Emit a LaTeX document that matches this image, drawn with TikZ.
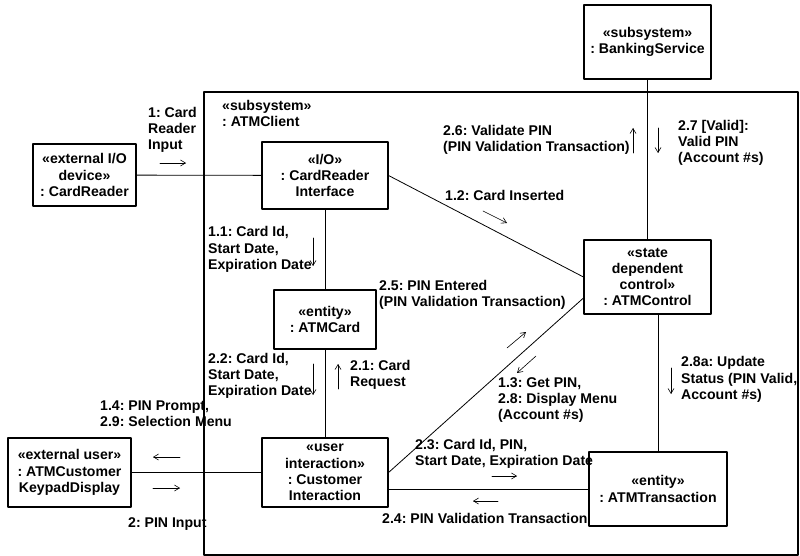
\documentclass[tikz,border=0pt]{standalone}
\usepackage{fontspec}
\setmainfont{Liberation Sans}
\usetikzlibrary{arrows.meta}
\frenchspacing
\begin{document}
\begin{tikzpicture}[x=1pt, y=-1pt, font=\fontsize{14.1}{16.2}\selectfont\bfseries, line join=round, line cap=round,
  >={Straight Barb[length=5pt,width=6pt]},
  obj/.style={draw, line width=1.1pt, align=center, inner sep=1pt},
  link/.style={line width=0.8pt},
  msg/.style={->, line width=0.6pt},
  lbl/.style={align=left, anchor=west, inner sep=0pt}]
\useasboundingbox (0,0) rectangle (800,556);
% subsystem frame
\draw[line width=1.1pt] (204,92) rectangle (798,555);
\node[lbl] (client) at (222,113.5) {«subsystem»\\: ATMClient};
% objects
\node[obj, minimum width=103pt, minimum height=62pt] (reader) at (84.5,175) {«external I/O\\device»\\: CardReader};
\node[obj, minimum width=126pt, minimum height=67pt] (readerif) at (325,175.5) {«I/O»\\: CardReader\\Interface};
\node[obj, minimum width=102pt, minimum height=59pt] (card) at (325,319.5) {«entity»\\: ATMCard};
\node[obj, minimum width=127pt, minimum height=74pt] (bank) at (647.5,42) {«subsystem»\\: BankingService};
\node[obj, minimum width=127pt, minimum height=74pt] (control) at (647.5,277) {«state\\dependent\\control»\\: ATMControl};
\node[obj, minimum width=123pt, minimum height=69pt] (keypad) at (69.5,472.5) {«external user»\\: ATMCustomer\\KeypadDisplay};
\node[obj, minimum width=126pt, minimum height=69pt] (custif) at (325,472.5) {«user\\interaction»\\: Customer\\Interaction};
\node[obj, minimum width=138pt, minimum height=74pt] (trans) at (658,489) {«entity»\\: ATMTransaction};
% links
\draw[link] (reader) -- (readerif);
\draw[link] (readerif) -- (card);
\draw[link] (card) -- (custif);
\draw[link] (bank) -- (control);
\draw[link] (keypad) -- (custif);
\draw[link] (readerif.east) -- (control.west);
\draw[link] (custif.east) -- ([yshift=-21pt]control.west);
\draw[link] (custif.east |- trans.west) -- (trans.west);
\draw[link] (trans.north) -- (trans.north |- control.south);
% message arrows
\path (160,163) coordinate (s1) (186,163) coordinate (e1)
  (313,238) coordinate (s11) (313,266) coordinate (e11)
  (483,211) coordinate (s12) (507,223) coordinate (e12)
  (633,153) coordinate (s26) (633,128) coordinate (e26)
  (658,128) coordinate (s27) (658,153) coordinate (e27)
  (507,348) coordinate (s25) (526,332) coordinate (e25)
  (536,356) coordinate (s13) (517,373) coordinate (e13)
  (338,389) coordinate (s21) (338,364) coordinate (e21)
  (313,364) coordinate (s22) (313,395) coordinate (e22)
  (180,457) coordinate (s14) (153,457) coordinate (e14)
  (153,488) coordinate (s2) (180,488) coordinate (e2)
  (492,476) coordinate (s23) (517,476) coordinate (e23)
  (498,501) coordinate (s24) (473,501) coordinate (e24)
  (671,368) coordinate (s28) (671,394) coordinate (e28);
\foreach \m in {1,11,12,26,27,25,13,21,22,14,2,23,24,28}{\draw[msg] (s\m) -- (e\m);}
% message labels
\node[lbl] (l1) at (148,130) {1: Card\\Reader\\Input};
\node[lbl] (l11) at (208,249.5) {1.1: Card Id,\\Start Date,\\Expiration Date};
\node[lbl] (l12) at (445,195) {1.2: Card Inserted};
\node[lbl] (l26) at (443,140) {2.6: Validate PIN\\(PIN Validation Transaction)};
\node[lbl] (l27) at (678,143) {2.7 [Valid]:\\Valid PIN\\(Account \#s)};
\node[lbl] (l25) at (379,294.5) {2.5: PIN Entered\\(PIN Validation Transaction)};
\node[lbl] (l21) at (350,375) {2.1: Card\\Request};
\node[lbl] (l22) at (208,376) {2.2: Card Id,\\Start Date,\\Expiration Date};
\node[lbl] (l14) at (100,414) {1.4: PIN Prompt,\\2.9: Selection Menu};
\node[lbl] (l2) at (128,524) {2: PIN Input};
\node[lbl] (l13) at (498,400) {1.3: Get PIN,\\2.8: Display Menu\\(Account \#s)};
\node[lbl] (l23) at (415,453.5) {2.3: Card Id, PIN,\\Start Date, Expiration Date};
\node[lbl] (l24) at (382,518) {2.4: PIN Validation Transaction};
\node[lbl] (l28) at (681,379.5) {2.8a: Update\\Status (PIN Valid,\\Account \#s)};
\end{tikzpicture}
\end{document}
